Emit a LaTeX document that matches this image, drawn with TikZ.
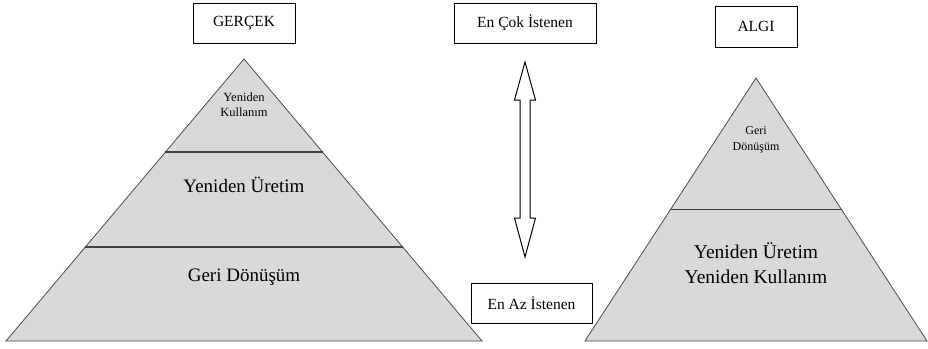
\documentclass[tikz,border=0pt]{standalone}
\usepackage{fontspec}
\setmainfont{Liberation Serif}
\usetikzlibrary{positioning,calc}
\definecolor{pyrgray}{RGB}{217,217,217}

\begin{document}
\begin{tikzpicture}[x=1pt, y=-1pt,
    labelbox/.style={draw, line width=1pt, minimum height=40pt, inner sep=0pt,
        font=\fontsize{15.5}{18}\selectfont},
    pyramid/.style={fill=pyrgray, draw=black!70, line width=0.8pt, line join=miter},
    tier/.style={draw=black!75, line width=1.6pt},
    bigtext/.style={align=center, inner sep=0pt, font=\fontsize{19}{25}\selectfont},
    smalltext/.style={align=center, inner sep=0pt, font=\fontsize{12.5}{15}\selectfont}]
    \useasboundingbox (0,0) rectangle (928,348);

    % Labels
    \node[labelbox, minimum width=102pt] (gercek) at (244,23) {GERÇEK};
    \node[labelbox, minimum width=142pt] (encok) at (525,23) {En Çok İstenen};
    \node[labelbox, minimum width=82pt, minimum height=41pt] (algi) at (756,26.5) {ALGI};
    \node[labelbox, minimum width=121pt] (enaz) at (531.5,303) {En Az İstenen};

    % Left pyramid (reality)
    \coordinate (lapex) at (244,59);
    \coordinate (lleft) at (6,341);
    \coordinate (lright) at (482,341);
    \draw[pyramid] (lapex) -- (lright) -- (lleft) -- cycle;
    \draw[tier] ($(lapex)!0.33!(lleft)$) -- ($(lapex)!0.33!(lright)$);
    \draw[tier] ($(lapex)!0.667!(lleft)$) -- ($(lapex)!0.667!(lright)$);
    \node[smalltext] (lreuse) at (244,105) {Yeniden\\Kullanım};
    \node[bigtext] (lreman) at (244,185) {Yeniden Üretim};
    \node[bigtext] (lrecyc) at (244,277) {Geri Dönüşüm};

    % Preference arrow
    \coordinate (arrtop) at (525,62);
    \coordinate (arrbot) at (525,257);
    \draw[line width=1pt, fill=white]
        (arrtop) -- ($(arrtop)+(10.5,38)$) -- ($(arrtop)+(5,38)$)
        -- ($(arrbot)+(5,-39)$) -- ($(arrbot)+(10.5,-39)$) -- (arrbot)
        -- ($(arrbot)+(-10.5,-39)$) -- ($(arrbot)+(-5,-39)$)
        -- ($(arrtop)+(-5,38)$) -- ($(arrtop)+(-10.5,38)$) -- cycle;

    % Right pyramid (perception)
    \coordinate (rapex) at (756,78);
    \coordinate (rleft) at (585,341);
    \coordinate (rright) at (927,341);
    \draw[pyramid] (rapex) -- (rright) -- (rleft) -- cycle;
    \draw[tier] ($(rapex)!0.5!(rleft)$) -- ($(rapex)!0.5!(rright)$);
    \node[smalltext, font=\fontsize{12}{16}\selectfont] (rrecyc) at (756,140) {Geri\\Dönüşüm};
    \node[bigtext, font=\fontsize{19.5}{25}\selectfont] (rboth) at (756,263) {Yeniden Üretim\\Yeniden Kullanım};
\end{tikzpicture}
\end{document}
